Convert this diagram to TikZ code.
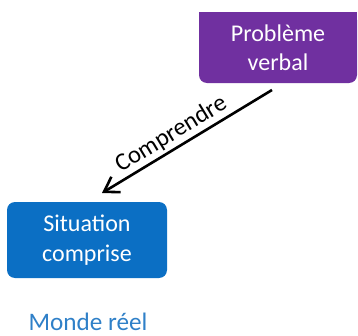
\documentclass[tikz,border=0pt]{standalone}
\usepackage{fontspec}
\setmainfont{Carlito}
\usetikzlibrary{arrows.meta}
\definecolor{violetbox}{HTML}{7030A0}
\definecolor{bluebox}{HTML}{0B6FC4}
\definecolor{bluetext}{HTML}{2F80C8}
\tikzset{
  box/.style={rounded corners=8*0.03cm,text=white,align=center,
    font=\fontsize{20.5}{25}\selectfont,inner sep=0pt},
}
\begin{document}
\begin{tikzpicture}[x=0.03cm,y=-0.03cm]
  \useasboundingbox (0,0) rectangle (358,336);
  \node[box,fill=violetbox,minimum width=158*0.03cm,minimum height=71*0.03cm] (probleme) at (278,47.5) {Problème\\verbal};
  \fill[violetbox] (probleme.north west) rectangle ([yshift=-10*0.03cm]probleme.north east);
  \node[box,fill=bluebox,minimum width=160*0.03cm,minimum height=76*0.03cm] (situation) at (87,240) {Situation\\comprise};
  \node[text=bluetext,font=\fontsize{21.5}{25}\selectfont] (monde) at (88,322) {Monde réel};
  \coordinate (debut) at (272,90);
  \coordinate (fin) at (102,193);
  \draw[line width=2.6*0.03cm,-{Straight Barb[length=14*0.03cm,width=18*0.03cm]}] (debut) -- node[pos=0.55,above,sloped,font=\fontsize{21}{25}\selectfont,inner sep=2pt] {Comprendre} (fin);
\end{tikzpicture}
\end{document}
